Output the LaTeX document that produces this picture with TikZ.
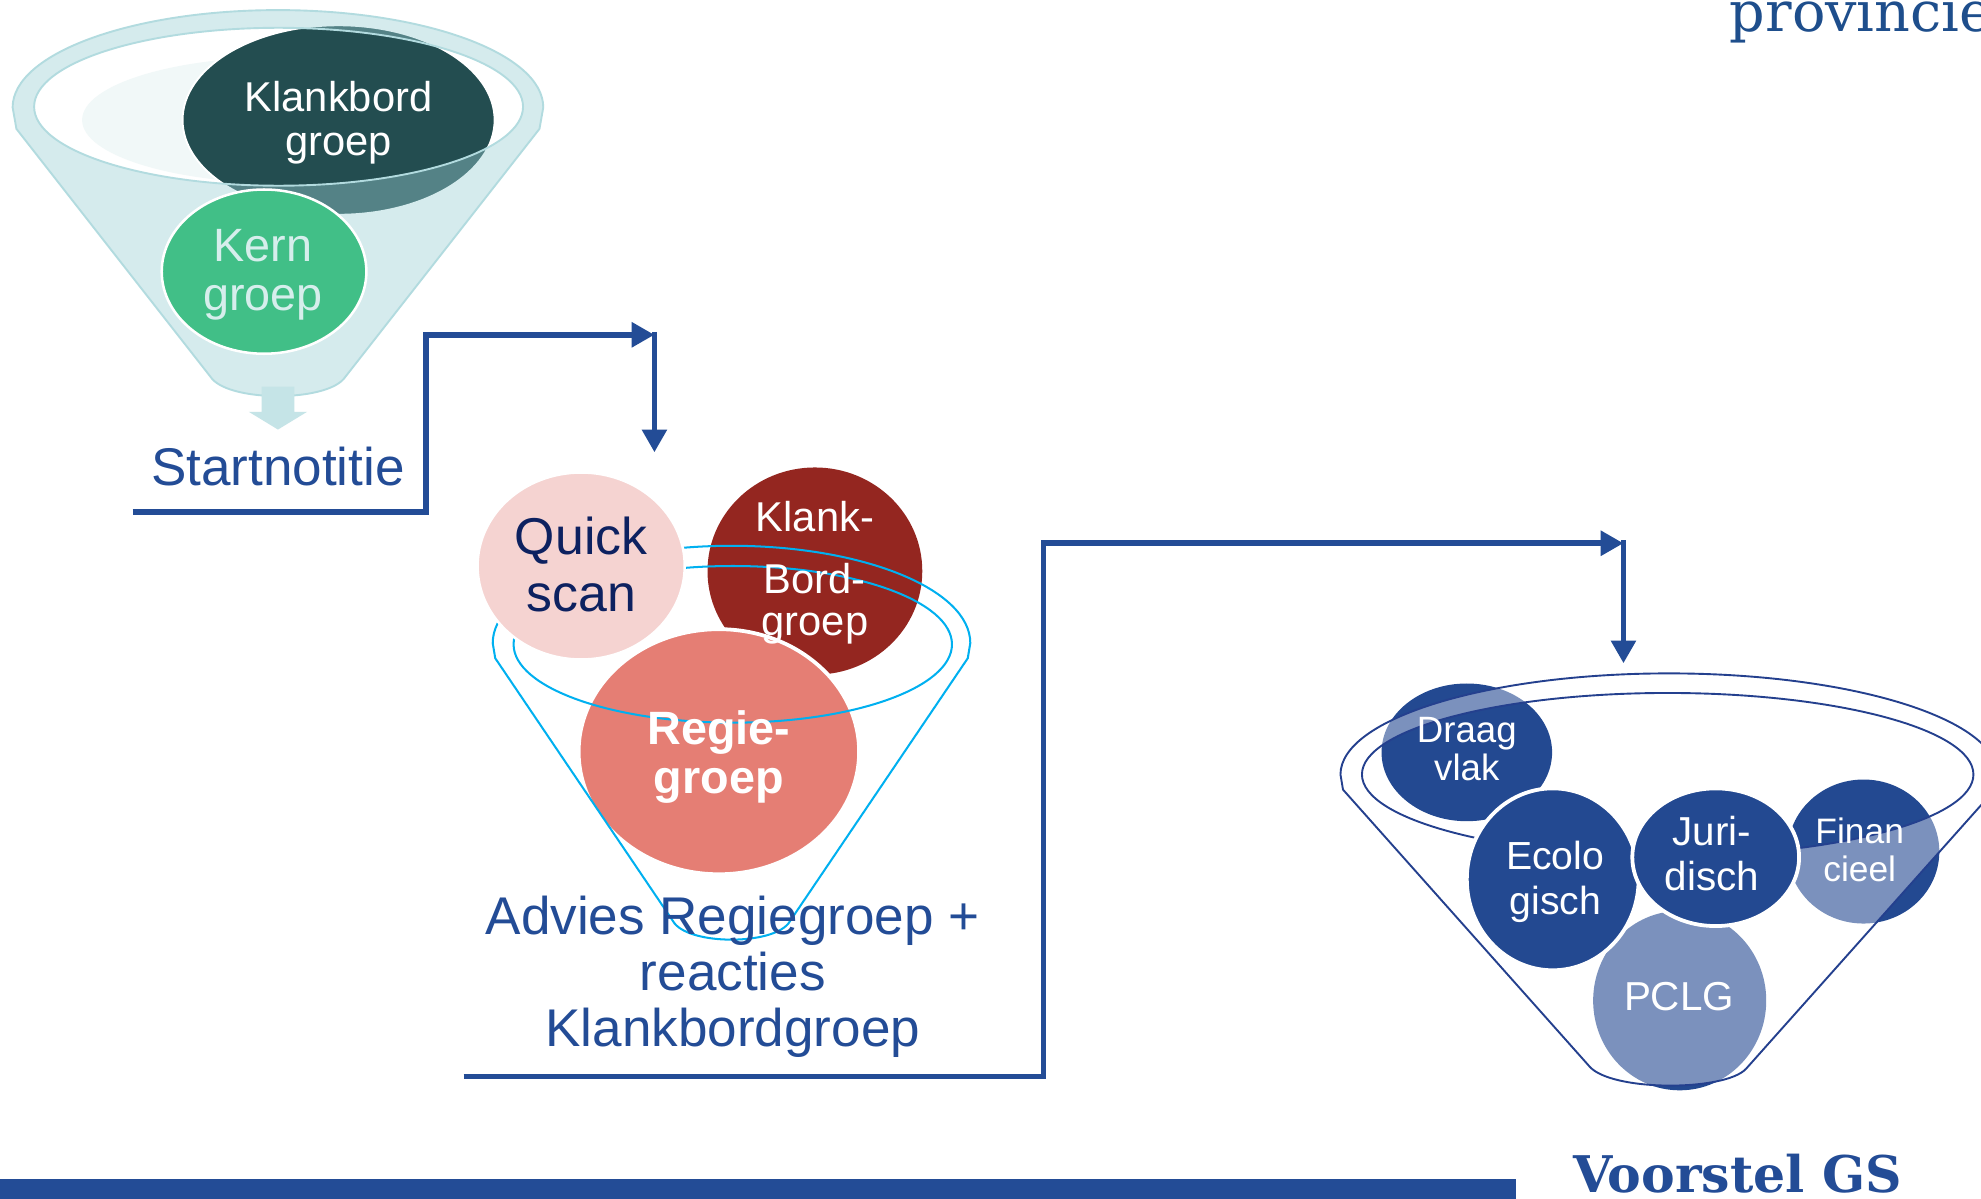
\documentclass[tikz,border=0pt]{standalone}
\usepackage{fontspec}
\setmainfont{Liberation Sans}
\newfontfamily\serifx{DejaVu Serif}
\usetikzlibrary{arrows.meta,shapes.geometric}
\definecolor{lineblue}{RGB}{35,76,150}
\definecolor{rimteal}{RGB}{178,219,223}
\definecolor{tealfill}{RGB}{155,208,213}
\definecolor{faint}{RGB}{241,248,248}
\definecolor{kbdark}{RGB}{35,77,80}
\definecolor{kerngreen}{RGB}{65,191,135}
\definecolor{kerntext}{RGB}{214,238,236}
\definecolor{smallarrow}{RGB}{197,228,231}
\definecolor{qsfill}{RGB}{245,211,209}
\definecolor{qstext}{RGB}{13,33,96}
\definecolor{kbred}{RGB}{148,38,32}
\definecolor{regie}{RGB}{229,126,116}
\definecolor{cyanline}{RGB}{0,176,240}
\definecolor{navy}{RGB}{35,73,145}
\definecolor{navyline}{RGB}{36,64,142}
\definecolor{provblue}{RGB}{30,78,140}
\tikzset{
  conn/.style={line width=4.5, draw=lineblue, line join=miter},
  tipped/.style={-{Triangle[length=18,width=19]}},
  circ/.style={ellipse, inner sep=0, outer sep=0},
  lbl/.style={anchor=base, inner sep=0, outer sep=0},
  fs/.style={font=\fontsize{#1}{#1}\selectfont},
  fsb/.style={font=\bfseries\fontsize{#1}{#1}\selectfont},
}
\begin{document}
\begin{tikzpicture}[x=1pt,y=1pt]
\useasboundingbox (0,0) rectangle (1568,-949);
\fill[white] (0,0) rectangle (1568,-949);

% ---------- top funnel ----------
\fill[faint] (225,-95) ellipse[x radius=160, y radius=50];
\node[circ, fill=kbdark, draw=white, line width=1.5, minimum width=247, minimum height=150] (kb) at (268,-95) {};
\path[fill=tealfill, fill opacity=0.41, even odd rule, draw=rimteal, line width=1.5]
  (10,-85) arc[start angle=180, end angle=0, x radius=210, y radius=77]
  -- (427,-102) -- (272,-300) .. controls (256,-318) and (184,-318) .. (168,-300) -- (13,-102) -- cycle
  (220.5,-84.5) ellipse[x radius=193.5, y radius=62.5];
\fill[smallarrow] (207,-306) -- (233,-306) -- (233,-326) -- (243,-326) -- (220,-340) -- (197,-326) -- (207,-326) -- cycle;
\node[circ, fill=kerngreen, draw=white, line width=2, minimum width=162, minimum height=130] (kern) at (209,-215) {};
\node[lbl, fs=33, text=white] (kbt1) at (268,-88) {Klankbord};
\node[lbl, fs=33, text=white] (kbt2) at (268,-123) {groep};
\node[lbl, fs=37, text=kerntext] (kt1) at (208,-207) {Kern};
\node[lbl, fs=37, text=kerntext] (kt2) at (208,-246) {groep};
\node[lbl, fs=42, text=lineblue] (start) at (220,-384) {Startnotitie};

% ---------- connector 1 ----------
\coordinate (c1a) at (105,-405);
\coordinate (c1b) at (337,-405);
\coordinate (c1c) at (337,-265);
\coordinate (c1d) at (518,-265);
\coordinate (c1e) at (518,-262.75);
\coordinate (c1f) at (518,-358);
\draw[conn, tipped] (c1a) -- (c1b) -- (c1c) -- (c1d);
\draw[conn, tipped] (c1e) -- (c1f);

% ---------- middle funnel ----------
\node[circ, fill=kbred, minimum width=170, minimum height=164] (kbr) at (645,-452) {};
\node[circ, fill=regie, draw=white, line width=3, minimum width=222, minimum height=194] (rg) at (569,-595) {};
\path[draw=cyanline, line width=1.6]
  (390,-509) arc[start angle=180, end angle=0, x radius=189, y radius=77]
  -- (766,-521) -- (624,-731) .. controls (610,-748) and (548,-748) .. (534,-731) -- (392,-521) -- cycle
  (580,-510) ellipse[x radius=173.5, y radius=62];
\node[circ, fill=qsfill, draw=white, line width=2, minimum width=164, minimum height=148] (qs) at (460,-448) {};
\node[lbl, fs=41, text=qstext] (qst1) at (460,-439) {Quick};
\node[lbl, fs=41, text=qstext] (qst2) at (460,-484) {scan};
\node[lbl, fs=33, text=white] (kbrt1) at (645,-421) {Klank-};
\node[lbl, fs=33, text=white] (kbrt2) at (645,-470) {Bord-};
\node[lbl, fs=33, text=white] (kbrt3) at (645,-503) {groep};
\node[lbl, fsb=37, text=white] (rgt1) at (569,-589) {Regie-};
\node[lbl, fsb=37, text=white] (rgt2) at (569,-628) {groep};
\node[lbl, fs=42, text=lineblue] (adv1) at (580,-740) {Advies Regiegroep +};
\node[lbl, fs=42, text=lineblue] (adv2) at (580,-784) {reacties};
\node[lbl, fs=42, text=lineblue] (adv3) at (580,-828) {Klankbordgroep};

% ---------- connector 2 ----------
\coordinate (c2a) at (367,-852);
\coordinate (c2b) at (826,-852);
\coordinate (c2c) at (826,-430);
\coordinate (c2d) at (1285,-430);
\coordinate (c2e) at (1285,-427.75);
\coordinate (c2f) at (1285,-525);
\draw[conn, tipped] (c2a) -- (c2b) -- (c2c) -- (c2d);
\draw[conn, tipped] (c2e) -- (c2f);

% ---------- right funnel ----------
\node[circ, fill=navy, minimum width=135, minimum height=109] (dv) at (1161,-595.5) {};
\node[circ, fill=navy, minimum width=120, minimum height=114] (fin) at (1475,-674) {};
\node[circ, fill=navy, minimum width=137, minimum height=142] (pclg) at (1329.5,-792) {};
\path[fill=white, fill opacity=0.4, even odd rule, draw=navyline, line width=1.5]
  (1061,-613) arc[start angle=180, end angle=0, x radius=260, y radius=80]
  -- (1579,-625) -- (1382,-846) .. controls (1365,-864) and (1275,-864) .. (1258,-844) -- (1063,-625) -- cycle
  (1320,-613) ellipse[x radius=242, y radius=64.5];
\node[circ, fill=navy, draw=white, line width=3, minimum width=136, minimum height=144] (eco) at (1229,-696) {};
\node[circ, fill=navy, draw=white, line width=3, minimum width=132, minimum height=109] (jur) at (1358,-678.5) {};
\node[lbl, fs=29, text=white] (dvt1) at (1161,-588) {Draag};
\node[lbl, fs=29, text=white] (dvt2) at (1161,-618) {vlak};
\node[lbl, fs=31, text=white] (ecot1) at (1231,-688) {Ecolo};
\node[lbl, fs=31, text=white] (ecot2) at (1231,-724) {gisch};
\node[lbl, fs=32, text=white] (jurt1) at (1355,-669) {Juri-};
\node[lbl, fs=32, text=white] (jurt2) at (1355,-705) {disch};
\node[lbl, fs=28, text=white] (fint1) at (1472,-667.5) {Finan};
\node[lbl, fs=28, text=white] (fint2) at (1472,-698) {cieel};
\node[lbl, fs=32, text=white] (pclgt) at (1329,-800) {PCLG};

% ---------- footer / logo ----------
\node[anchor=base west, inner sep=0, text=provblue, font=\serifx\fontsize{44}{44}\selectfont] (prov) at (1369,-25) {provincie};
\fill[lineblue] (0,-933) rectangle (1200,-949);
\node[anchor=base west, inner sep=0, text=lineblue, font=\serifx\bfseries\fontsize{40}{40}\selectfont] (vgs) at (1245,-944) {Voorstel GS};
\end{tikzpicture}
\end{document}
